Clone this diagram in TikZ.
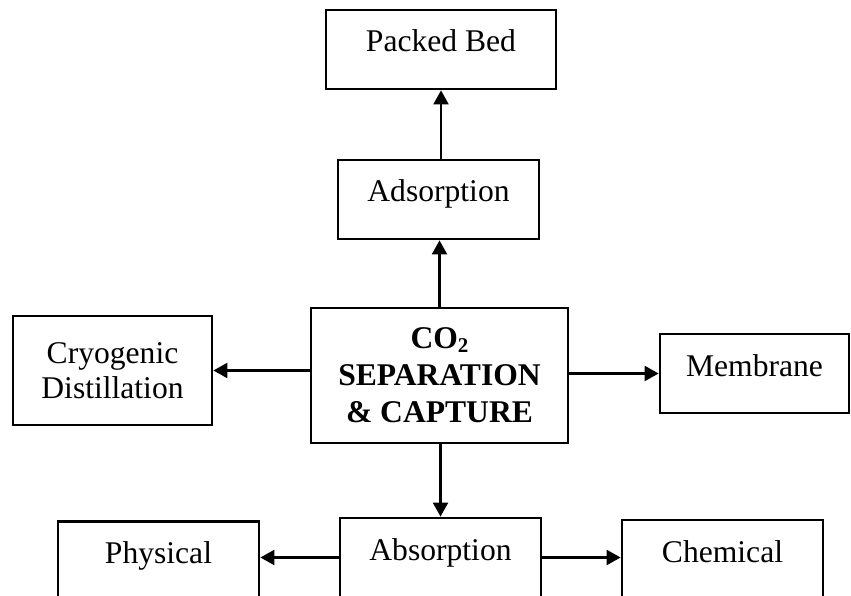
\documentclass[tikz,border=0pt]{standalone}
\usepackage{fontspec}
\setmainfont{Liberation Serif}
\usetikzlibrary{arrows.meta}
\begin{document}
\begin{tikzpicture}[x=1pt,y=-1pt,
  box/.style={draw, line width=2.8pt, rectangle, inner sep=0pt,
    font=\fontsize{31.6}{35}\selectfont},
  one/.style={text height=21pt, text depth=16pt},
  arr/.style={line width=2.2pt, -{Triangle[length=14pt,width=15pt]}}]
\useasboundingbox (0,0) rectangle (851,596);
\clip (0,0) rectangle (851,596);
\node[box, one, minimum width=230pt, minimum height=79pt] (pb) at (441,49.5) {Packed Bed};
\node[box, one, minimum width=201pt, minimum height=79pt] (ads) at (438.5,199.5) {Adsorption};
\node[box, minimum width=257pt, minimum height=135pt, align=center,
  font=\fontsize{31.6}{37}\selectfont\bfseries] (c) at (439.5,375.5)
  {CO{\fontsize{21}{21}\selectfont\raisebox{-4pt}{2}}\\SEPARATION\\\& CAPTURE};
\node[box, minimum width=199pt, minimum height=109pt, align=center] (cryo) at (112.5,370.5)
  {Cryogenic\\Distillation};
\node[box, one, minimum width=189pt, minimum height=79pt] (mem) at (754.5,373.5) {Membrane};
\node[box, one, minimum width=201pt, minimum height=79pt] (phys) at (158.5,561) {Physical};
\node[box, one, minimum width=201pt, minimum height=79pt] (abs) at (440.5,557.5) {Absorption};
\node[box, one, minimum width=201pt, minimum height=79pt] (chem) at (722.5,559.5) {Chemical};
\draw[arr] (c.north) -- (c.north |- ads.south);
\draw[arr] (ads.north -| pb.south) -- (pb.south);
\draw[arr] (cryo.east -| c.west) -- (cryo.east);
\draw[arr] (mem.west -| c.east) -- (mem.west);
\draw[arr] (c.south -| abs.north) -- (abs.north);
\draw[arr] (abs.west) -- (abs.west -| phys.east);
\draw[arr] (abs.east) -- (abs.east -| chem.west);
\end{tikzpicture}
\end{document}
